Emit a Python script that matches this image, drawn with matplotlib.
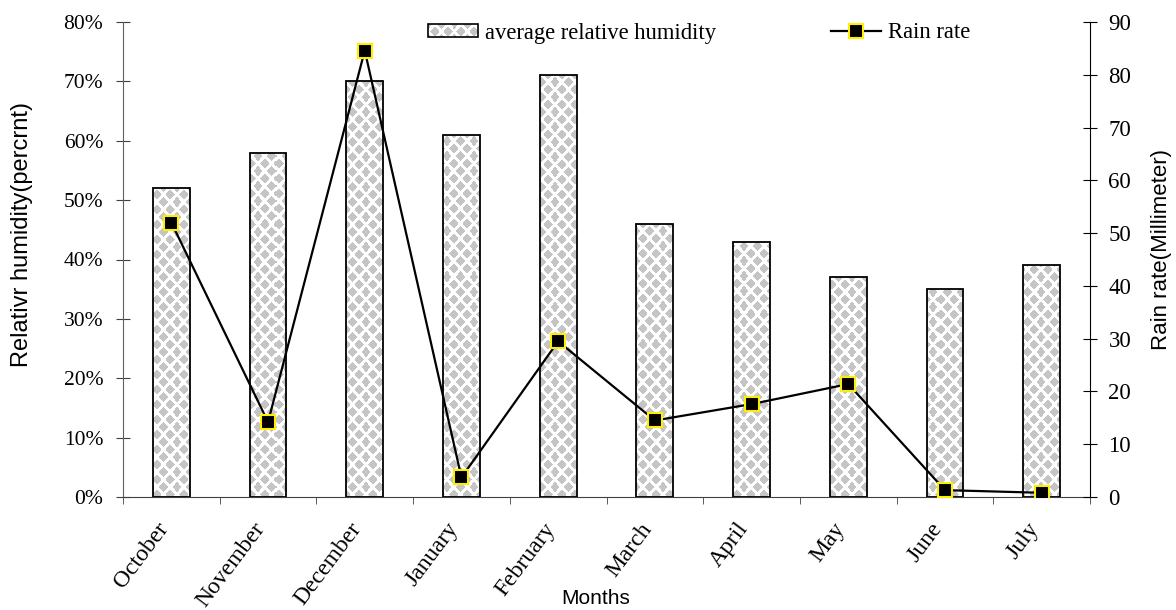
import numpy as np
import matplotlib
matplotlib.use("Agg")
import matplotlib.pyplot as plt
from matplotlib.patches import Rectangle
from matplotlib.lines import Line2D
from matplotlib.legend_handler import HandlerBase
from matplotlib.image import BboxImage
from matplotlib.transforms import (Bbox, TransformedBbox, ScaledTranslation,
                                   blended_transform_factory)

months = ["October", "November", "December", "January", "February",
          "March", "April", "May", "June", "July"]
humidity = [52, 58, 70, 61, 71, 46, 43, 37, 35, 39]
rain = [52.0, 14.2, 84.6, 3.7, 29.5, 14.5, 17.6, 21.4, 1.3, 0.8]

SERIF = "Liberation Serif"
SANS = "Liberation Sans"

W, H = 1176, 610
ax_l, ax_r, ax_t, ax_b = 123, 1090, 22, 497


def diamond_texture(h, w, px=13.5, py=15.0, radius=0.35, grey=0.77):
    # grey diamonds on a centred lattice, white gaps between them
    yy, xx = np.mgrid[0:h, 0:w] + 0.5

    def dist(ox, oy):
        dx = (((xx - ox) / px + 0.5) % 1.0) - 0.5
        dy = (((yy - oy) / py + 0.5) % 1.0) - 0.5
        return np.abs(dx) + np.abs(dy)

    d = np.minimum(dist(0, 0), dist(px / 2, py / 2))
    return np.where(d < radius, grey, 1.0)


tex = diamond_texture(ax_b - ax_t, ax_r - ax_l)


class HandlerTexture(HandlerBase):
    def create_artists(self, legend, orig_handle, xdescent, ydescent,
                       width, height, fontsize, trans):
        bb = TransformedBbox(Bbox.from_bounds(-xdescent, -ydescent, width, height), trans)
        img = BboxImage(bb, cmap="gray", norm=plt.Normalize(0, 1), interpolation="nearest")
        img.set_data(diamond_texture(int(height * 1.4) + 1, int(width * 1.4) + 1))
        rect = Rectangle((-xdescent, -ydescent), width, height, facecolor="none",
                         edgecolor="black", lw=1.2, transform=trans)
        return [img, rect]


fig = plt.figure(figsize=(W / 100, H / 100), dpi=100)
ax = fig.add_axes([ax_l / W, 1 - ax_b / H, (ax_r - ax_l) / W, (ax_b - ax_t) / H])

x = np.arange(len(months))
bars = ax.bar(x, humidity, width=0.38, facecolor="none", edgecolor="black",
              linewidth=1.3, zorder=3)
for b in bars:
    im = ax.imshow(tex, extent=(0, 1, 0, 1), transform=ax.transAxes, aspect="auto",
                   cmap="gray", vmin=0, vmax=1, interpolation="nearest", zorder=2)
    im.set_clip_path(b)

ax.set_xlim(-0.5, len(months) - 0.5)
ax.set_ylim(0, 80)
ax.set_yticks(range(0, 81, 10))
ax.set_yticklabels([f"{v}%" for v in range(0, 81, 10)], fontfamily=SERIF, fontsize=15.5)

# month labels: slanted, anchored a little left of each category centre
ax.set_xticks([])
ax.set_xticks(np.arange(-0.5, len(months)), minor=True)
ax.tick_params(axis="x", which="minor", length=5, direction="out", color="#404040")
lbl_tr = blended_transform_factory(ax.transData, ax.transAxes) + \
    ScaledTranslation(-0.07, -0.28, fig.dpi_scale_trans)
for i, m in enumerate(months):
    ax.text(i, 0, m, transform=lbl_tr, rotation=53, ha="right", va="center",
            rotation_mode="anchor", fontfamily=SERIF, fontsize=17, clip_on=False)

ax.tick_params(axis="y", length=10.5, direction="inout", pad=9, color="#404040")
ax.spines["top"].set_visible(False)
ax.spines["right"].set_visible(False)
ax.spines["left"].set_color("#606060")
ax.spines["bottom"].set_color("#404040")

ax2 = ax.twinx()
ax2.plot(x, rain, color="black", lw=1.6, marker="s", markersize=10.5,
         markerfacecolor="black", markeredgecolor="#ffee00", markeredgewidth=1.5,
         zorder=4)
ax2.set_ylim(0, 90)
ax2.set_yticks(range(0, 91, 10))
ax2.set_yticklabels([str(v) for v in range(0, 91, 10)], fontfamily=SERIF, fontsize=16.5)
ax2.tick_params(axis="y", length=10.5, direction="inout", pad=8, color="black")
ax2.spines["top"].set_visible(False)
ax2.spines["left"].set_visible(False)
ax2.spines["bottom"].set_visible(False)
ax2.spines["right"].set_color("black")

fig.text(22 / W, 1 - 367 / H, "Relativr humidity(percrnt)", rotation=90,
         ha="center", va="bottom", fontfamily=SANS, fontsize=17)
fig.text(1162 / W, 1 - 350 / H, "Rain rate(Millimeter)", rotation=90,
         ha="center", va="bottom", fontfamily=SANS, fontsize=16)
fig.text(596 / W, 1 - 598 / H, "Months", ha="center", va="center",
         fontfamily=SANS, fontsize=15)

bar_handle = Rectangle((0, 0), 1, 1)
line_handle = Line2D([], [], color="black", lw=1.6, marker="s", markersize=10.5,
                     markerfacecolor="black", markeredgecolor="#ffee00",
                     markeredgewidth=1.5)
fig.legend([bar_handle, line_handle], ["average relative humidity", "Rain rate"],
           handler_map={Rectangle: HandlerTexture()}, ncol=2, frameon=False,
           loc="center", bbox_to_anchor=(699 / W, 1 - 33 / H),
           prop={"family": SERIF, "size": 16.3}, handlelength=2.2, handleheight=0.45,
           handletextpad=0.3, columnspacing=5.1)

fig.savefig("out.png", dpi=100)
